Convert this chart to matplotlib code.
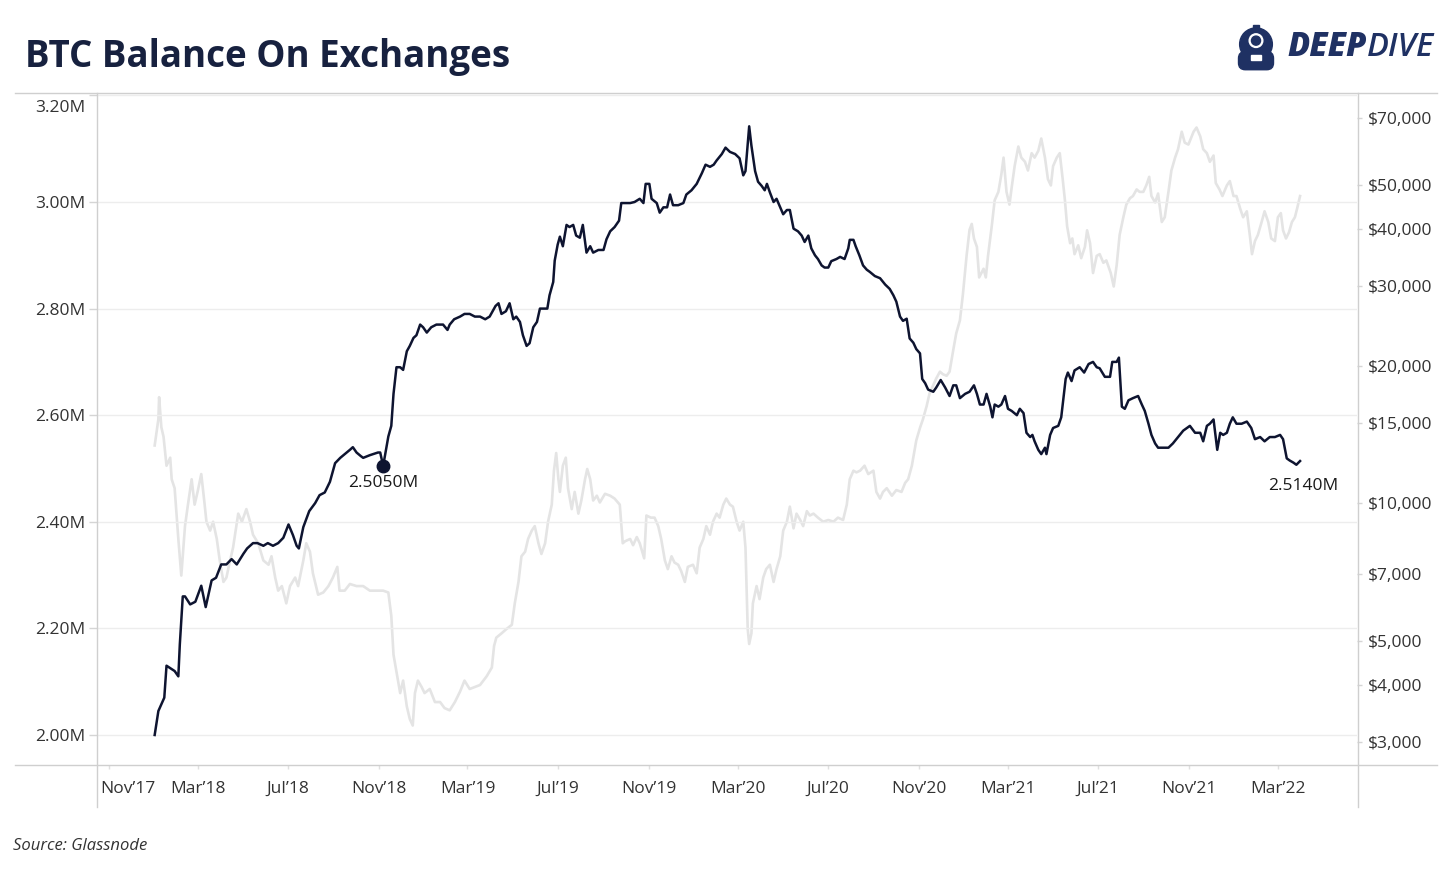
import numpy as np
import pandas as pd
import matplotlib
matplotlib.use('Agg')
import matplotlib.pyplot as plt
import matplotlib.ticker as mticker
from matplotlib.lines import Line2D
from matplotlib.patches import Circle, FancyBboxPatch, Rectangle
from matplotlib.transforms import ScaledTranslation

plt.rcParams['font.family'] = ['Open Sans', 'DejaVu Sans']

# days counted from 2018-01-01
start = pd.Timestamp('2018-01-01')

bal_day = [1, 6, 14, 17, 28, 33, 35, 39, 42, 49, 56, 64, 70, 78, 84, 91, 98, 105, 112, 121,
           126, 134, 140, 148, 154, 161, 168, 175, 182, 188, 193, 196, 202, 210, 218, 224, 231, 238, 245, 252,
           265, 269, 274, 280, 283, 292, 303, 306, 310, 317, 321, 324, 328, 333, 337, 342, 346, 351, 355, 360,
           364, 369, 375, 382, 391, 397, 400, 406, 414, 420, 427, 434, 441, 448, 454, 462, 466, 470, 476, 481,
           486, 490, 495, 499, 504, 508, 513, 518, 522, 526, 532, 535, 540, 542, 546, 549,
           553, 558, 562, 567, 571, 576, 580, 585, 590, 594, 601, 608, 612, 617, 623, 629, 632, 637, 644, 650,
           657, 662, 665, 670, 673, 680, 684, 689, 694, 698, 702, 709, 716, 720, 727, 734, 741, 746, 752, 757,
           761, 768, 773, 779, 786, 792, 797, 800, 805, 808, 813, 817, 822, 826, 829, 833,
           838, 842, 847, 851, 856, 860, 865, 871, 876, 880, 885, 889, 894, 898, 903, 907, 912, 916, 923, 928,
           934, 939, 941, 946, 949, 954, 959, 964, 968, 975, 982, 989, 995, 1000, 1004, 1009, 1013, 1018, 1022, 1027,
           1031, 1036, 1039, 1043, 1047, 1054, 1058, 1064, 1070, 1076, 1081, 1085, 1090, 1097, 1103, 1109, 1113, 1117,
           1122, 1126, 1131, 1134, 1137, 1142, 1146, 1151, 1155, 1160, 1167, 1171, 1176, 1180, 1185, 1188, 1191, 1196, 1200, 1205,
           1207, 1212, 1216, 1223, 1227, 1230, 1233, 1236, 1241, 1245, 1252, 1258, 1264, 1270, 1275, 1279, 1286, 1293, 1296, 1302,
           1305, 1309, 1313, 1318, 1324, 1331, 1336, 1340, 1345, 1349, 1354, 1358, 1365, 1372, 1378, 1385, 1392, 1397, 1401,
           1408, 1415, 1419, 1424, 1428, 1433, 1438, 1442, 1446, 1451, 1455, 1459, 1464, 1471, 1478, 1484, 1489, 1496, 1502, 1509,
           1516, 1523, 1527, 1532, 1536, 1541, 1545, 1550]
bal_val = [2.00, 2.045, 2.07, 2.13, 2.12, 2.11, 2.17, 2.26, 2.26, 2.245, 2.25, 2.28, 2.24, 2.29, 2.295, 2.32, 2.32, 2.33, 2.32, 2.34,
           2.35, 2.36, 2.36, 2.355, 2.36, 2.355, 2.36, 2.37, 2.395, 2.375, 2.355, 2.35, 2.39, 2.42, 2.435, 2.45, 2.455, 2.475, 2.51, 2.52,
           2.535, 2.54, 2.53, 2.523, 2.52, 2.525, 2.53, 2.53, 2.505, 2.56, 2.58, 2.64, 2.69, 2.69, 2.685, 2.72, 2.73, 2.745, 2.75, 2.77,
           2.765, 2.755, 2.765, 2.77, 2.77, 2.76, 2.77, 2.78, 2.785, 2.79, 2.79, 2.785, 2.785, 2.78, 2.785, 2.805, 2.81, 2.79, 2.795, 2.81,
           2.78, 2.785, 2.775, 2.75, 2.73, 2.735, 2.765, 2.775, 2.80, 2.80, 2.80, 2.825, 2.85, 2.89, 2.92, 2.935,
           2.917, 2.957, 2.953, 2.957, 2.937, 2.933, 2.957, 2.905, 2.917, 2.905, 2.91, 2.91, 2.93, 2.945, 2.953, 2.965, 2.998, 2.998, 2.998, 3.00,
           3.006, 2.998, 3.034, 3.034, 3.006, 2.998, 2.98, 2.99, 2.99, 3.014, 2.994, 2.994, 2.998, 3.014, 3.022, 3.034, 3.054, 3.07, 3.066, 3.07,
           3.078, 3.09, 3.102, 3.094, 3.09, 3.082, 3.05, 3.058, 3.142, 3.106, 3.058, 3.038, 3.03, 3.022, 3.034, 3.018,
           3.00, 3.006, 2.99, 2.977, 2.985, 2.985, 2.95, 2.945, 2.937, 2.925, 2.937, 2.913, 2.90, 2.893, 2.881, 2.877, 2.877, 2.889, 2.893, 2.897,
           2.893, 2.913, 2.929, 2.929, 2.917, 2.90, 2.881, 2.873, 2.869, 2.861, 2.857, 2.845, 2.837, 2.825, 2.813, 2.785, 2.777, 2.781, 2.744, 2.736,
           2.724, 2.716, 2.668, 2.66, 2.648, 2.644, 2.652, 2.666, 2.652, 2.636, 2.656, 2.656, 2.632, 2.64, 2.644, 2.656, 2.64, 2.62,
           2.62, 2.64, 2.616, 2.596, 2.62, 2.616, 2.62, 2.636, 2.612, 2.608, 2.60, 2.612, 2.604, 2.567, 2.559, 2.563, 2.551, 2.535, 2.527, 2.539,
           2.527, 2.563, 2.576, 2.58, 2.596, 2.632, 2.668, 2.68, 2.664, 2.684, 2.69, 2.68, 2.696, 2.70, 2.69, 2.688, 2.672, 2.672, 2.70, 2.70,
           2.708, 2.616, 2.612, 2.628, 2.632, 2.636, 2.62, 2.608, 2.584, 2.563, 2.547, 2.539, 2.539, 2.539, 2.547, 2.559, 2.571, 2.576, 2.58,
           2.567, 2.567, 2.551, 2.58, 2.584, 2.592, 2.535, 2.567, 2.563, 2.567, 2.584, 2.596, 2.584, 2.584, 2.588, 2.576, 2.555, 2.559, 2.551, 2.559,
           2.559, 2.563, 2.555, 2.519, 2.515, 2.511, 2.507, 2.514]

price_day = [1, 6, 7, 10, 13, 17, 22, 24, 28, 33, 37, 42, 46, 51, 55, 59, 64, 68, 71, 76,
             80, 85, 89, 94, 98, 103, 107, 114, 119, 125, 130, 134, 141, 148, 155, 159, 164, 168, 173, 179,
             184, 191, 195, 202, 206, 211, 215, 222, 229, 236, 242, 248, 251, 258, 265,
             274, 283, 292, 301, 310, 317, 321, 324, 328, 333, 337, 342, 346, 350, 353, 357, 362, 366, 373, 380,
             387, 393, 400, 407, 414, 420, 427, 434, 441, 450, 457, 460, 463, 470, 477, 484, 488, 493, 497, 502,
             506, 511, 515, 520, 524, 529, 533, 538, 541, 544, 547, 549,
             553, 557, 560, 565, 569, 574, 578, 583, 586, 590, 594, 599, 603, 610, 617, 623, 630, 634, 637, 644,
             648, 653, 657, 663, 666, 672, 677, 682, 686, 691, 695, 700, 704, 709, 713, 718, 722, 729, 734, 738,
             743, 747, 752, 756, 761, 765, 770, 774, 779, 783, 788, 792, 797, 800, 803, 805, 808, 810, 815, 819,
             824, 828, 833,
             838, 842, 847, 851, 856, 860, 865, 869, 874, 878, 883, 887, 892, 898, 905, 912, 919, 925, 932, 937,
             941, 946, 950, 955, 961, 966, 973, 977, 982, 986, 991, 998, 1004, 1011, 1016, 1020, 1025, 1028, 1031, 1036,
             1040, 1045, 1049, 1054, 1058, 1063, 1067, 1072, 1076, 1081, 1085, 1090, 1094, 1099, 1103, 1106, 1109, 1113, 1116,
             1122, 1125, 1128, 1133, 1137, 1142, 1146, 1149, 1153, 1157, 1160, 1164, 1169, 1173, 1178, 1182, 1187, 1191, 1196, 1200,
             1205, 1209, 1213, 1216, 1221, 1225, 1229, 1232, 1235, 1239, 1242, 1245, 1250, 1254, 1259, 1262, 1266, 1270, 1275, 1279,
             1284, 1288, 1294, 1298, 1302, 1306, 1311, 1315, 1320, 1324, 1329, 1333, 1338, 1342, 1346, 1349, 1354, 1358, 1363, 1367,
             1372, 1376, 1381, 1385, 1390, 1394, 1399,
             1406, 1410, 1415, 1419, 1424, 1428, 1433, 1436, 1441, 1445, 1451, 1455, 1460, 1464, 1469, 1473, 1478, 1482, 1485, 1489,
             1493, 1498, 1502, 1507, 1511, 1516, 1520, 1524, 1527, 1531, 1535, 1539, 1543, 1546, 1550]
price_val = [13400, 15300, 17100, 14700, 14000, 12100, 12600, 11300, 10800, 8360, 6950, 8920, 9940, 11300, 9940, 10600, 11600, 10150, 9120, 8720,
             9120, 8360, 7500, 6730, 6880, 7500, 8000, 9500, 9120, 9720, 9120, 8540, 8180, 7500, 7340, 7660, 6880, 6440, 6590, 6040,
             6590, 6880, 6590, 7500, 8180, 7840, 7030, 6310, 6380, 6590, 6880, 7260, 6440, 6440, 6660,
             6590, 6590, 6440, 6440, 6440, 6380, 5670, 4660, 4270, 3840, 4090, 3590, 3370, 3260, 3840, 4090, 3960, 3840, 3920, 3670,
             3670, 3560, 3520, 3670, 3870, 4090, 3920, 3960, 4000, 4180, 4370, 4870, 5080, 5190, 5310, 5420, 6040, 6730, 7660, 7840,
             8360, 8720, 8920, 8180, 7750, 8180, 9120, 9940, 11800, 12900, 11300, 10600,
             12100, 12600, 10800, 9720, 10600, 9500, 10150, 11300, 11900, 11300, 10150, 10400, 10050, 10500, 10400, 10250, 9940, 8180, 8260, 8360,
             8100, 8440, 8180, 7580, 9410, 9310, 9310, 8920, 8360, 7500, 7180, 7660, 7420, 7340, 7110, 6730, 7260, 7340, 7030, 8000,
             8360, 8920, 8540, 9120, 9500, 9310, 9940, 10250, 9940, 9840, 9120, 8720, 9120, 8000, 5310, 4920, 5190, 6040, 6590, 6170,
             6880, 7180, 7340,
             6730, 7180, 7660, 8720, 9120, 9840, 8820, 9500, 9200, 8920, 9620, 9410, 9500, 9310, 9120, 9200, 9120, 9310, 9200, 9940,
             11300, 11800, 11700, 11800, 12100, 11600, 11800, 10600, 10250, 10600, 10800, 10400, 10700, 10600, 11100, 11300, 12100, 12900, 13750, 14650,
             15300, 16350, 17450, 18200, 18800, 19450, 19200, 19050, 19450, 21700, 23600, 25200, 28700, 34900, 39800, 41000, 38100, 36500, 31300,
             32700, 31300, 34900, 40500, 46200, 48200, 52600, 57300, 48200, 45200, 49300, 54900, 60600, 57300, 56100, 53700, 58600, 57300, 59300, 63100,
             57300, 51400, 49800, 54900, 57300, 58600, 51400, 46200, 40500, 37200, 38100, 35200, 36800, 34500, 36500, 39700, 37200, 32000, 34900, 35200,
             33700, 34100, 32000, 29900, 33300, 38800, 42400, 45200, 46700, 47200, 48800, 48200, 48200, 49800, 52000, 47200, 45700, 47800, 41400, 42400,
             48200, 53700, 57300, 59800, 65300, 61800, 61200,
             65300, 66700, 63800, 59800, 58600, 56100, 57900, 50400, 48800, 47200, 49800, 50900, 47200, 47200, 44300, 42400, 43700, 38800, 35200, 37600,
             38800, 41400, 43700, 41400, 38100, 37600, 42400, 43300, 39700, 38100, 39300, 41400, 42400, 44300, 47200]

left_ticks = [2.0, 2.2, 2.4, 2.6, 2.8, 3.0, 3.2]
right_ticks = [3000, 4000, 5000, 7000, 10000, 15000, 20000, 30000, 40000, 50000, 70000]
month_ticks = pd.date_range('2017-11-01', '2022-03-01', freq='4MS')
month_labels = [d.strftime('%b\u2019%y') for d in month_ticks]

low_day, low_val = 310, 2.505
last_label = '2.5140M'

bal_dates = start + pd.to_timedelta(bal_day, unit='D')
price_dates = start + pd.to_timedelta(price_day, unit='D')

navy = '#0e1430'
txt = '#333333'
W, H = 1456, 874


def fx(px):
    return px / W


def fy(py):
    return 1 - py / H


fig = plt.figure(figsize=(14.56, 8.74), dpi=100)
fig.patch.set_facecolor('white')

ax = fig.add_axes([fx(97), fy(765), (1357 - 97) / W, (765 - 93) / H])
ax2 = ax.twinx()
ax.set_zorder(ax2.get_zorder() + 1)
ax.patch.set_visible(False)

# price in the background (right, log scale)
ax2.plot(price_dates, price_val, color='#e4e4e4', lw=1.9, solid_joinstyle='round')
ax2.set_yscale('log')
ax2.set_ylim(2671, 79400)
ax2.yaxis.set_major_locator(mticker.FixedLocator(right_ticks))
ax2.yaxis.set_minor_locator(mticker.NullLocator())
ax2.yaxis.set_major_formatter(mticker.FuncFormatter(lambda v, p: f'${v:,.0f}'))
ax2.tick_params(axis='y', length=3.5, width=1, color='#d5d5d5', pad=4.5,
                labelsize=12.5, labelcolor=txt)

# balance on exchanges (left)
ax.plot(bal_dates, bal_val, color=navy, lw=1.8, solid_joinstyle='round')
ax.set_ylim(1.9437, 3.2045)
ax.set_xlim(pd.Timestamp('2017-10-16'), pd.Timestamp('2022-06-16'))
ax.set_yticks(left_ticks)
ax.yaxis.set_major_formatter(mticker.FuncFormatter(lambda v, p: f'{v:.2f}M'))
ax.tick_params(axis='y', length=5.5, width=1, color='#d5d5d5', pad=3,
               labelsize=12.5, labelcolor=txt)
ax.yaxis.grid(True, color='#ededed', lw=1)
ax.set_xticks(month_ticks)
ax.set_xticklabels(month_labels)
ax.tick_params(axis='x', length=3, width=1, color='#e0e0e0', pad=8.5,
               labelsize=12.5, labelcolor=txt)

# nudge edge labels inside the panes
first = ax.get_xticklabels()[0]
first.set_transform(first.get_transform() + ScaledTranslation(0.19, 0, fig.dpi_scale_trans))
top = ax.get_yticklabels()[-1]
top.set_transform(top.get_transform() + ScaledTranslation(0, -0.11, fig.dpi_scale_trans))

for a in (ax, ax2):
    for s in a.spines.values():
        s.set_visible(False)

# annotations
low_date = start + pd.Timedelta(days=low_day)
ax.plot([low_date], [low_val], 'o', ms=9, color=navy, zorder=5)
ax.annotate('2.5050M', xy=(low_date, low_val), xytext=(0, -17), textcoords='offset pixels',
            ha='center', va='center', fontsize=12.5, color='#1a1a1a')
ax.annotate(last_label, xy=(bal_dates[-1], bal_val[-1]), xytext=(3, -25),
            textcoords='offset pixels', ha='center', va='center', fontsize=12.5, color='#1a1a1a')

# pane borders
line_c = '#cfcfcf'
fig.add_artist(Line2D([fx(15), fx(1437)], [fy(93), fy(93)], color=line_c, lw=1))
fig.add_artist(Line2D([fx(15), fx(1437)], [fy(765), fy(765)], color=line_c, lw=1))
fig.add_artist(Line2D([fx(97), fx(97)], [fy(93), fy(807)], color=line_c, lw=1))
fig.add_artist(Line2D([fx(1358), fx(1358)], [fy(93), fy(807)], color=line_c, lw=1))

# title and source
fig.text(fx(25), fy(67), 'BTC Balance On Exchanges', fontsize=26.5, fontweight='bold',
         color='#17213f', va='baseline')
fig.text(fx(13), fy(846), 'Source: Glassnode', fontsize=12, fontstyle='italic',
         color=txt, va='center')

# logo
logo_c = '#1f3163'
t1 = fig.text(fx(1287), fy(56), 'DEEP', fontsize=23.5, fontweight='heavy', fontstyle='italic',
              color=logo_c, va='baseline')
ax.annotate('DIVE', xy=(1, 0), xycoords=t1, ha='left', va='bottom', fontsize=23.5,
            fontstyle='italic', fontweight='semibold', color=logo_c, annotation_clip=False)

lax = fig.add_axes([fx(1233), fy(72), 46 / W, 50 / H])
lax.set_xlim(-1, 1)
lax.set_ylim(-1.1, 1.1)
lax.set_aspect('equal')
lax.axis('off')
lax.add_patch(Circle((0, 0.12), 0.72, color=logo_c))
lax.add_patch(FancyBboxPatch((-0.72, -0.95), 1.44, 0.7, boxstyle='round,pad=0.05,rounding_size=0.3', color=logo_c))
lax.add_patch(Rectangle((-0.14, 0.8), 0.28, 0.18, color=logo_c))
lax.add_patch(Circle((0, 0.28), 0.3, color='white'))
lax.add_patch(Circle((0, 0.28), 0.2, color=logo_c))
lax.add_patch(Rectangle((-0.2, -0.55), 0.4, 0.2, color='white'))

fig.savefig('out.png', dpi=100, facecolor='white')
